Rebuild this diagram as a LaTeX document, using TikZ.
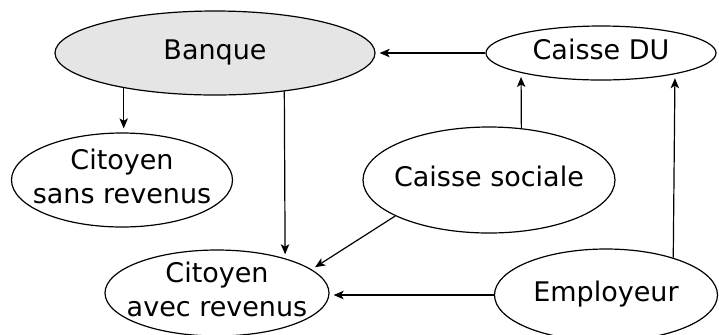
\documentclass[tikz,border=0pt]{standalone}
\usepackage{fontspec}
\setmainfont{DejaVu Sans}
\usetikzlibrary{shapes.geometric,arrows.meta}
\newcommand{\etiq}[1]{\makebox[0pt]{\raisebox{-3.4pt}[0pt][0pt]{\begin{tabular}{@{}c@{}}#1\end{tabular}}}}

\begin{document}
\begin{tikzpicture}[x=0.5pt,y=-0.5pt,line width=0.6pt,
    bulle/.style={ellipse,draw,inner sep=0pt,font=\fontsize{13.5}{17}\selectfont},
    fleche/.style={-{Stealth[length=5pt,width=4.2pt,inset=1.2pt]},shorten >=2pt}]
            \useasboundingbox (0,0) rectangle (719,334);
            \node[bulle,fill=black!10,minimum width=160pt,minimum height=42pt] (banque) at (215,53) {\etiq{Banque}};
            \node[bulle,minimum width=115pt,minimum height=27pt] (du) at (601,53) {\etiq{Caisse DU}};
            \node[bulle,minimum width=110.5pt,minimum height=47pt] (sansrev) at (122,180) {\etiq{Citoyen\\sans revenus}};
            \node[bulle,minimum width=126pt,minimum height=53pt] (soc) at (489,180) {\etiq{Caisse sociale}};
            \node[bulle,minimum width=112pt,minimum height=43pt] (avec) at (217,293) {\etiq{Citoyen\\avec revenus}};
            \node[bulle,minimum width=111.5pt,minimum height=46pt] (emp) at (606,295) {\etiq{Employeur}};
            % flux
            \draw[fleche] (banque.201.1)--(banque.201.1 |- sansrev.north);
            \draw[fleche] (banque.-29.2)--(avec.27.8);
            \draw[fleche] (du.west)--(banque.east);
            \draw[fleche] (soc.58)--(du.-166.4);
            \draw[fleche] (emp.29.3)--(du.-16.6);
            \draw[fleche] (soc.201.7)--(avec.14.7);
            \draw[fleche] (emp.west)--(emp.west -| avec.east);
        \end{tikzpicture}
\end{document}
